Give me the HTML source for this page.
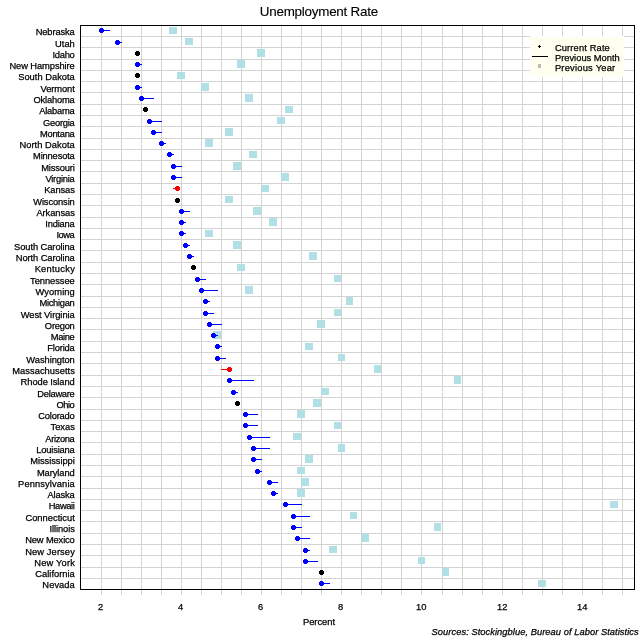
<!DOCTYPE html><html><head><meta charset="utf-8"><title>Unemployment Rate</title><style>
html,body{margin:0;padding:0;background:#fff;}
svg{display:block;}
text{font-family:"Liberation Sans",Arial,sans-serif;fill:#000;stroke:#000;stroke-width:0.25px;}
.s{font-size:9.33px;text-anchor:end;}
.t{font-size:9.33px;text-anchor:middle;}
.l{font-size:9.33px;}
</style></head><body>
<svg width="640" height="640" viewBox="0 0 640 640">
<rect x="0" y="0" width="640" height="640" fill="#fff"/>
<g shape-rendering="crispEdges" fill="#d3d3d3">
<rect x="101" y="26" width="1" height="569"/>
<rect x="121" y="26" width="1" height="569"/>
<rect x="141" y="26" width="1" height="569"/>
<rect x="161" y="26" width="1" height="569"/>
<rect x="181" y="26" width="1" height="569"/>
<rect x="201" y="26" width="1" height="569"/>
<rect x="221" y="26" width="1" height="569"/>
<rect x="241" y="26" width="1" height="569"/>
<rect x="261" y="26" width="1" height="569"/>
<rect x="281" y="26" width="1" height="569"/>
<rect x="301" y="26" width="1" height="569"/>
<rect x="321" y="26" width="1" height="569"/>
<rect x="341" y="26" width="1" height="569"/>
<rect x="361" y="26" width="1" height="569"/>
<rect x="381" y="26" width="1" height="569"/>
<rect x="401" y="26" width="1" height="569"/>
<rect x="421" y="26" width="1" height="569"/>
<rect x="442" y="26" width="1" height="569"/>
<rect x="462" y="26" width="1" height="569"/>
<rect x="482" y="26" width="1" height="569"/>
<rect x="502" y="26" width="1" height="569"/>
<rect x="522" y="26" width="1" height="569"/>
<rect x="542" y="26" width="1" height="569"/>
<rect x="562" y="26" width="1" height="569"/>
<rect x="582" y="26" width="1" height="569"/>
<rect x="602" y="26" width="1" height="569"/>
<rect x="622" y="26" width="1" height="569"/>
<rect x="81" y="36" width="553" height="1"/>
<rect x="81" y="47" width="553" height="1"/>
<rect x="81" y="59" width="553" height="1"/>
<rect x="81" y="70" width="553" height="1"/>
<rect x="81" y="81" width="553" height="1"/>
<rect x="81" y="92" width="553" height="1"/>
<rect x="81" y="104" width="553" height="1"/>
<rect x="81" y="115" width="553" height="1"/>
<rect x="81" y="126" width="553" height="1"/>
<rect x="81" y="138" width="553" height="1"/>
<rect x="81" y="149" width="553" height="1"/>
<rect x="81" y="160" width="553" height="1"/>
<rect x="81" y="171" width="553" height="1"/>
<rect x="81" y="183" width="553" height="1"/>
<rect x="81" y="194" width="553" height="1"/>
<rect x="81" y="205" width="553" height="1"/>
<rect x="81" y="217" width="553" height="1"/>
<rect x="81" y="228" width="553" height="1"/>
<rect x="81" y="239" width="553" height="1"/>
<rect x="81" y="250" width="553" height="1"/>
<rect x="81" y="262" width="553" height="1"/>
<rect x="81" y="273" width="553" height="1"/>
<rect x="81" y="284" width="553" height="1"/>
<rect x="81" y="296" width="553" height="1"/>
<rect x="81" y="307" width="553" height="1"/>
<rect x="81" y="318" width="553" height="1"/>
<rect x="81" y="329" width="553" height="1"/>
<rect x="81" y="341" width="553" height="1"/>
<rect x="81" y="352" width="553" height="1"/>
<rect x="81" y="363" width="553" height="1"/>
<rect x="81" y="375" width="553" height="1"/>
<rect x="81" y="386" width="553" height="1"/>
<rect x="81" y="397" width="553" height="1"/>
<rect x="81" y="409" width="553" height="1"/>
<rect x="81" y="420" width="553" height="1"/>
<rect x="81" y="431" width="553" height="1"/>
<rect x="81" y="442" width="553" height="1"/>
<rect x="81" y="454" width="553" height="1"/>
<rect x="81" y="465" width="553" height="1"/>
<rect x="81" y="476" width="553" height="1"/>
<rect x="81" y="488" width="553" height="1"/>
<rect x="81" y="499" width="553" height="1"/>
<rect x="81" y="510" width="553" height="1"/>
<rect x="81" y="521" width="553" height="1"/>
<rect x="81" y="533" width="553" height="1"/>
<rect x="81" y="544" width="553" height="1"/>
<rect x="81" y="555" width="553" height="1"/>
<rect x="81" y="567" width="553" height="1"/>
<rect x="81" y="578" width="553" height="1"/>
</g>
<g shape-rendering="crispEdges" fill="#000">
<rect x="80" y="25" width="555" height="1"/>
<rect x="80" y="589" width="555" height="1"/>
<rect x="80" y="25" width="1" height="565"/>
<rect x="634" y="25" width="1" height="565"/>
</g>
<g shape-rendering="crispEdges" fill="#b0e0e6">
<rect x="169" y="27" width="8" height="7"/>
<rect x="185" y="38" width="8" height="7"/>
<rect x="257" y="49" width="8" height="8"/>
<rect x="237" y="60" width="8" height="8"/>
<rect x="177" y="72" width="8" height="7"/>
<rect x="201" y="83" width="8" height="8"/>
<rect x="245" y="94" width="8" height="8"/>
<rect x="285" y="106" width="8" height="7"/>
<rect x="277" y="117" width="8" height="7"/>
<rect x="225" y="128" width="8" height="8"/>
<rect x="205" y="139" width="8" height="8"/>
<rect x="249" y="151" width="8" height="7"/>
<rect x="233" y="162" width="8" height="8"/>
<rect x="281" y="173" width="8" height="8"/>
<rect x="261" y="185" width="8" height="7"/>
<rect x="225" y="196" width="8" height="7"/>
<rect x="253" y="207" width="8" height="8"/>
<rect x="269" y="218" width="8" height="8"/>
<rect x="205" y="230" width="8" height="7"/>
<rect x="233" y="241" width="8" height="8"/>
<rect x="309" y="252" width="8" height="8"/>
<rect x="237" y="264" width="8" height="7"/>
<rect x="334" y="275" width="7" height="7"/>
<rect x="245" y="286" width="8" height="8"/>
<rect x="346" y="297" width="7" height="8"/>
<rect x="334" y="309" width="7" height="7"/>
<rect x="317" y="320" width="8" height="8"/>
<rect x="213" y="331" width="8" height="8"/>
<rect x="305" y="343" width="8" height="7"/>
<rect x="338" y="354" width="7" height="7"/>
<rect x="374" y="365" width="7" height="8"/>
<rect x="454" y="376" width="7" height="8"/>
<rect x="321" y="388" width="8" height="7"/>
<rect x="313" y="399" width="8" height="8"/>
<rect x="297" y="410" width="8" height="8"/>
<rect x="334" y="422" width="7" height="7"/>
<rect x="293" y="433" width="8" height="7"/>
<rect x="338" y="444" width="7" height="8"/>
<rect x="305" y="455" width="8" height="8"/>
<rect x="297" y="467" width="8" height="7"/>
<rect x="301" y="478" width="8" height="8"/>
<rect x="297" y="489" width="8" height="8"/>
<rect x="610" y="501" width="8" height="7"/>
<rect x="350" y="512" width="7" height="7"/>
<rect x="434" y="523" width="7" height="8"/>
<rect x="362" y="534" width="7" height="8"/>
<rect x="329" y="546" width="8" height="7"/>
<rect x="418" y="557" width="7" height="7"/>
<rect x="442" y="568" width="7" height="8"/>
<rect x="538" y="580" width="8" height="7"/>
</g>
<g shape-rendering="crispEdges">
<rect x="101" y="30" width="9" height="1" fill="#0000ff"/>
<path d="M100 28h3v1h1v3h-1v1h-3v-1h-1v-3h1z" fill="#0000ff"/>
<rect x="117" y="42" width="5" height="1" fill="#0000ff"/>
<path d="M116 40h3v1h1v3h-1v1h-3v-1h-1v-3h1z" fill="#0000ff"/>
<path d="M136 51h3v1h1v3h-1v1h-3v-1h-1v-3h1z" fill="#000000"/>
<rect x="137" y="64" width="5" height="1" fill="#0000ff"/>
<path d="M136 62h3v1h1v3h-1v1h-3v-1h-1v-3h1z" fill="#0000ff"/>
<path d="M136 73h3v1h1v3h-1v1h-3v-1h-1v-3h1z" fill="#000000"/>
<rect x="137" y="87" width="5" height="1" fill="#0000ff"/>
<path d="M136 85h3v1h1v3h-1v1h-3v-1h-1v-3h1z" fill="#0000ff"/>
<rect x="141" y="98" width="13" height="1" fill="#0000ff"/>
<path d="M140 96h3v1h1v3h-1v1h-3v-1h-1v-3h1z" fill="#0000ff"/>
<path d="M144 107h3v1h1v3h-1v1h-3v-1h-1v-3h1z" fill="#000000"/>
<rect x="149" y="121" width="13" height="1" fill="#0000ff"/>
<path d="M148 119h3v1h1v3h-1v1h-3v-1h-1v-3h1z" fill="#0000ff"/>
<rect x="153" y="132" width="9" height="1" fill="#0000ff"/>
<path d="M152 130h3v1h1v3h-1v1h-3v-1h-1v-3h1z" fill="#0000ff"/>
<rect x="161" y="143" width="5" height="1" fill="#0000ff"/>
<path d="M160 141h3v1h1v3h-1v1h-3v-1h-1v-3h1z" fill="#0000ff"/>
<rect x="169" y="154" width="5" height="1" fill="#0000ff"/>
<path d="M168 152h3v1h1v3h-1v1h-3v-1h-1v-3h1z" fill="#0000ff"/>
<rect x="173" y="166" width="9" height="1" fill="#0000ff"/>
<path d="M172 164h3v1h1v3h-1v1h-3v-1h-1v-3h1z" fill="#0000ff"/>
<rect x="173" y="177" width="9" height="1" fill="#0000ff"/>
<path d="M172 175h3v1h1v3h-1v1h-3v-1h-1v-3h1z" fill="#0000ff"/>
<rect x="173" y="188" width="5" height="1" fill="#ff0000"/>
<path d="M176 186h3v1h1v3h-1v1h-3v-1h-1v-3h1z" fill="#ff0000"/>
<path d="M176 198h3v1h1v3h-1v1h-3v-1h-1v-3h1z" fill="#000000"/>
<rect x="181" y="211" width="9" height="1" fill="#0000ff"/>
<path d="M180 209h3v1h1v3h-1v1h-3v-1h-1v-3h1z" fill="#0000ff"/>
<rect x="181" y="222" width="5" height="1" fill="#0000ff"/>
<path d="M180 220h3v1h1v3h-1v1h-3v-1h-1v-3h1z" fill="#0000ff"/>
<rect x="181" y="233" width="5" height="1" fill="#0000ff"/>
<path d="M180 231h3v1h1v3h-1v1h-3v-1h-1v-3h1z" fill="#0000ff"/>
<rect x="185" y="245" width="5" height="1" fill="#0000ff"/>
<path d="M184 243h3v1h1v3h-1v1h-3v-1h-1v-3h1z" fill="#0000ff"/>
<rect x="189" y="256" width="5" height="1" fill="#0000ff"/>
<path d="M188 254h3v1h1v3h-1v1h-3v-1h-1v-3h1z" fill="#0000ff"/>
<path d="M192 265h3v1h1v3h-1v1h-3v-1h-1v-3h1z" fill="#000000"/>
<rect x="197" y="279" width="9" height="1" fill="#0000ff"/>
<path d="M196 277h3v1h1v3h-1v1h-3v-1h-1v-3h1z" fill="#0000ff"/>
<rect x="201" y="290" width="17" height="1" fill="#0000ff"/>
<path d="M200 288h3v1h1v3h-1v1h-3v-1h-1v-3h1z" fill="#0000ff"/>
<rect x="205" y="301" width="5" height="1" fill="#0000ff"/>
<path d="M204 299h3v1h1v3h-1v1h-3v-1h-1v-3h1z" fill="#0000ff"/>
<rect x="205" y="313" width="9" height="1" fill="#0000ff"/>
<path d="M204 311h3v1h1v3h-1v1h-3v-1h-1v-3h1z" fill="#0000ff"/>
<rect x="209" y="324" width="13" height="1" fill="#0000ff"/>
<path d="M208 322h3v1h1v3h-1v1h-3v-1h-1v-3h1z" fill="#0000ff"/>
<rect x="213" y="335" width="5" height="1" fill="#0000ff"/>
<path d="M212 333h3v1h1v3h-1v1h-3v-1h-1v-3h1z" fill="#0000ff"/>
<rect x="217" y="346" width="5" height="1" fill="#0000ff"/>
<path d="M216 344h3v1h1v3h-1v1h-3v-1h-1v-3h1z" fill="#0000ff"/>
<rect x="217" y="358" width="9" height="1" fill="#0000ff"/>
<path d="M216 356h3v1h1v3h-1v1h-3v-1h-1v-3h1z" fill="#0000ff"/>
<rect x="221" y="369" width="9" height="1" fill="#ff0000"/>
<path d="M228 367h3v1h1v3h-1v1h-3v-1h-1v-3h1z" fill="#ff0000"/>
<rect x="229" y="380" width="25" height="1" fill="#0000ff"/>
<path d="M228 378h3v1h1v3h-1v1h-3v-1h-1v-3h1z" fill="#0000ff"/>
<rect x="233" y="392" width="5" height="1" fill="#0000ff"/>
<path d="M232 390h3v1h1v3h-1v1h-3v-1h-1v-3h1z" fill="#0000ff"/>
<path d="M236 401h3v1h1v3h-1v1h-3v-1h-1v-3h1z" fill="#000000"/>
<rect x="245" y="414" width="13" height="1" fill="#0000ff"/>
<path d="M244 412h3v1h1v3h-1v1h-3v-1h-1v-3h1z" fill="#0000ff"/>
<rect x="245" y="425" width="13" height="1" fill="#0000ff"/>
<path d="M244 423h3v1h1v3h-1v1h-3v-1h-1v-3h1z" fill="#0000ff"/>
<rect x="249" y="437" width="21" height="1" fill="#0000ff"/>
<path d="M248 435h3v1h1v3h-1v1h-3v-1h-1v-3h1z" fill="#0000ff"/>
<rect x="253" y="448" width="17" height="1" fill="#0000ff"/>
<path d="M252 446h3v1h1v3h-1v1h-3v-1h-1v-3h1z" fill="#0000ff"/>
<rect x="253" y="459" width="9" height="1" fill="#0000ff"/>
<path d="M252 457h3v1h1v3h-1v1h-3v-1h-1v-3h1z" fill="#0000ff"/>
<rect x="257" y="471" width="5" height="1" fill="#0000ff"/>
<path d="M256 469h3v1h1v3h-1v1h-3v-1h-1v-3h1z" fill="#0000ff"/>
<rect x="269" y="482" width="9" height="1" fill="#0000ff"/>
<path d="M268 480h3v1h1v3h-1v1h-3v-1h-1v-3h1z" fill="#0000ff"/>
<rect x="273" y="493" width="5" height="1" fill="#0000ff"/>
<path d="M272 491h3v1h1v3h-1v1h-3v-1h-1v-3h1z" fill="#0000ff"/>
<rect x="285" y="504" width="17" height="1" fill="#0000ff"/>
<path d="M284 502h3v1h1v3h-1v1h-3v-1h-1v-3h1z" fill="#0000ff"/>
<rect x="293" y="516" width="17" height="1" fill="#0000ff"/>
<path d="M292 514h3v1h1v3h-1v1h-3v-1h-1v-3h1z" fill="#0000ff"/>
<rect x="293" y="527" width="9" height="1" fill="#0000ff"/>
<path d="M292 525h3v1h1v3h-1v1h-3v-1h-1v-3h1z" fill="#0000ff"/>
<rect x="297" y="538" width="13" height="1" fill="#0000ff"/>
<path d="M296 536h3v1h1v3h-1v1h-3v-1h-1v-3h1z" fill="#0000ff"/>
<rect x="305" y="550" width="5" height="1" fill="#0000ff"/>
<path d="M304 548h3v1h1v3h-1v1h-3v-1h-1v-3h1z" fill="#0000ff"/>
<rect x="305" y="561" width="13" height="1" fill="#0000ff"/>
<path d="M304 559h3v1h1v3h-1v1h-3v-1h-1v-3h1z" fill="#0000ff"/>
<path d="M320 570h3v1h1v3h-1v1h-3v-1h-1v-3h1z" fill="#000000"/>
<rect x="321" y="583" width="9" height="1" fill="#0000ff"/>
<path d="M320 581h3v1h1v3h-1v1h-3v-1h-1v-3h1z" fill="#0000ff"/>
</g>
<rect x="530" y="36" width="94" height="41" fill="#fff" shape-rendering="crispEdges"/>
<rect x="531" y="37" width="92" height="39" fill="#fffff0" shape-rendering="crispEdges"/>
<path d="M539 45h1v1h1v1h-1v1h-1v-1h-1v-1h1z" fill="#000" shape-rendering="crispEdges"/>
<rect x="532" y="56" width="16" height="1" fill="#000" shape-rendering="crispEdges"/>
<rect x="538" y="64" width="3" height="4" fill="#bbbbbb" shape-rendering="crispEdges"/>
<text class="l" x="554.9" y="51" textLength="54.9">Current Rate</text>
<text class="l" x="554.9" y="61" textLength="64.9">Previous Month</text>
<text class="l" x="554.9" y="71" textLength="60.3">Previous Year</text>
<text class="s" x="74.8" y="35" textLength="39.14">Nebraska</text>
<text class="s" x="74.8" y="47" textLength="19.70">Utah</text>
<text class="s" x="74.8" y="58" textLength="22.24">Idaho</text>
<text class="s" x="74.8" y="69" textLength="65.41">New Hampshire</text>
<text class="s" x="74.8" y="80" textLength="56.64">South Dakota</text>
<text class="s" x="74.8" y="92" textLength="34.29">Vermont</text>
<text class="s" x="74.8" y="103" textLength="41.42">Oklahoma</text>
<text class="s" x="74.8" y="114" textLength="35.61">Alabama</text>
<text class="s" x="74.8" y="126" textLength="31.80">Georgia</text>
<text class="s" x="74.8" y="137" textLength="34.86">Montana</text>
<text class="s" x="74.8" y="148" textLength="55.37">North Dakota</text>
<text class="s" x="74.8" y="159" textLength="41.75">Minnesota</text>
<text class="s" x="74.8" y="171" textLength="33.65">Missouri</text>
<text class="s" x="74.8" y="182" textLength="29.35">Virginia</text>
<text class="s" x="74.8" y="193" textLength="30.53">Kansas</text>
<text class="s" x="74.8" y="205" textLength="41.57">Wisconsin</text>
<text class="s" x="74.8" y="216" textLength="38.42">Arkansas</text>
<text class="s" x="74.8" y="227" textLength="29.51">Indiana</text>
<text class="s" x="74.8" y="238" textLength="18.31">Iowa</text>
<text class="s" x="74.8" y="250" textLength="60.74">South Carolina</text>
<text class="s" x="74.8" y="261" textLength="58.96">North Carolina</text>
<text class="s" x="74.8" y="272" textLength="40.17">Kentucky</text>
<text class="s" x="74.8" y="284" textLength="44.78">Tennessee</text>
<text class="s" x="74.8" y="295" textLength="39.34">Wyoming</text>
<text class="s" x="74.8" y="306" textLength="35.39">Michigan</text>
<text class="s" x="74.8" y="318" textLength="54.17">West Virginia</text>
<text class="s" x="74.8" y="329" textLength="29.93">Oregon</text>
<text class="s" x="74.8" y="340" textLength="23.97">Maine</text>
<text class="s" x="74.8" y="351" textLength="27.48">Florida</text>
<text class="s" x="74.8" y="363" textLength="48.47">Washington</text>
<text class="s" x="74.8" y="374" textLength="62.52">Massachusetts</text>
<text class="s" x="74.8" y="385" textLength="54.18">Rhode Island</text>
<text class="s" x="74.8" y="397" textLength="37.46">Delaware</text>
<text class="s" x="74.8" y="408" textLength="18.27">Ohio</text>
<text class="s" x="74.8" y="419" textLength="36.56">Colorado</text>
<text class="s" x="74.8" y="430" textLength="24.20">Texas</text>
<text class="s" x="74.8" y="442" textLength="29.44">Arizona</text>
<text class="s" x="74.8" y="453" textLength="38.49">Louisiana</text>
<text class="s" x="74.8" y="464" textLength="44.64">Mississippi</text>
<text class="s" x="74.8" y="476" textLength="37.92">Maryland</text>
<text class="s" x="74.8" y="487" textLength="56.72">Pennsylvania</text>
<text class="s" x="74.8" y="498" textLength="27.37">Alaska</text>
<text class="s" x="74.8" y="509" textLength="26.05">Hawaii</text>
<text class="s" x="74.8" y="521" textLength="49.38">Connecticut</text>
<text class="s" x="74.8" y="532" textLength="25.41">Illinois</text>
<text class="s" x="74.8" y="543" textLength="49.62">New Mexico</text>
<text class="s" x="74.8" y="555" textLength="49.55">New Jersey</text>
<text class="s" x="74.8" y="566" textLength="40.47">New York</text>
<text class="s" x="74.8" y="577" textLength="39.52">California</text>
<text class="s" x="74.8" y="588" textLength="32.46">Nevada</text>
<text class="t" x="100.7" y="610">2</text>
<text class="t" x="180.7" y="610">4</text>
<text class="t" x="260.7" y="610">6</text>
<text class="t" x="340.7" y="610">8</text>
<text class="t" x="421.2" y="610">10</text>
<text class="t" x="502.2" y="610">12</text>
<text class="t" x="582.2" y="610">14</text>
<text class="t" x="319" y="625">Percent</text>
<text x="319" y="15.9" style="font-size:13.4px;text-anchor:middle;stroke-width:0.12px" textLength="118.3">Unemployment Rate</text>
<text x="638.7" y="635" style="font-size:9.33px;text-anchor:end;font-style:italic" textLength="207.1">Sources: Stockingblue, Bureau of Labor Statistics</text>
</svg></body></html>
